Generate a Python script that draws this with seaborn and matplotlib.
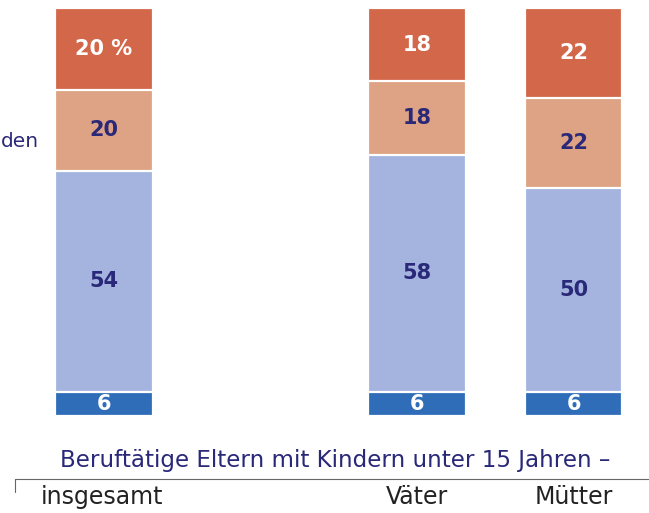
import matplotlib.pyplot as plt
import seaborn as sns

# Data (percent shares, stacked bottom -> top)
groups = ["insgesamt", "Väter", "Mütter"]
dark_blue = [6, 6, 6]
light_blue = [54, 58, 50]
light_orange = [20, 18, 22]
dark_orange = [20, 18, 22]
title = "Beruftätige Eltern mit Kindern unter 15 Jahren –"
side_text = "den"

# slot order, with an empty slot between "insgesamt" and the parents
order = ["insgesamt", " ", "Väter", "Mütter"]

colors = ["#2F6DB9", "#A4B4DF", "#DEA384", "#D2674A"]
label_colors = ["white", "#2A2878", "#2A2878", "white"]
navy = "#2A2878"

sns.set_theme(style="white")
plt.rcParams["font.family"] = ["DejaVu Sans"]

fig = plt.figure(figsize=(6.49, 5.13), dpi=100)
ax = fig.add_axes([0, 0, 1, 1])

layers = [dark_blue, light_blue, light_orange, dark_orange]
cums = []
run = [0, 0, 0]
for layer in layers:
    run = [a + b for a, b in zip(run, layer)]
    cums.append(run)

# draw cumulative totals from the top down so each layer covers the ones above
for cum, col in zip(cums[::-1], colors[::-1]):
    sns.barplot(x=groups, y=cum, order=order, color=col, saturation=1,
                width=0.62, edgecolor="white", linewidth=1.6, ax=ax)

# pixel -> data helpers for the layout
def px(x):
    return (x - 104) / 156.5

def py(y):
    return (416 - y) / 4.08

ax.set_xlim(px(0), px(649))
ax.set_ylim(py(513), py(0))
ax.axis("off")

# segment labels
for i, g in enumerate(groups):
    xpos = order.index(g)
    base = 0
    for k, layer in enumerate(layers):
        v = layer[i]
        txt = f"{v} %" if (i == 0 and k == 3) else f"{v}"
        ax.text(xpos, base + v / 2, txt, ha="center", va="center",
                fontsize=15, fontweight="bold", color=label_colors[k])
        base += v

ax.text(px(1), py(142), side_text, ha="left", va="center",
        fontsize=14.5, color=navy)

ax.text(px(335), py(460), title, ha="center", va="center",
        fontsize=16.6, color=navy)

ax.plot([px(15), px(649)], [py(479), py(479)], color="#666666", lw=0.8)
ax.plot([px(15), px(15)], [py(479), py(492)], color="#666666", lw=0.8)

label_x = {"insgesamt": px(102), "Väter": px(417), "Mütter": px(574)}
for g in groups:
    ax.text(label_x[g], py(497), g, ha="center", va="center",
            fontsize=17, color="#222222")

fig.savefig("out.png", dpi=100)
